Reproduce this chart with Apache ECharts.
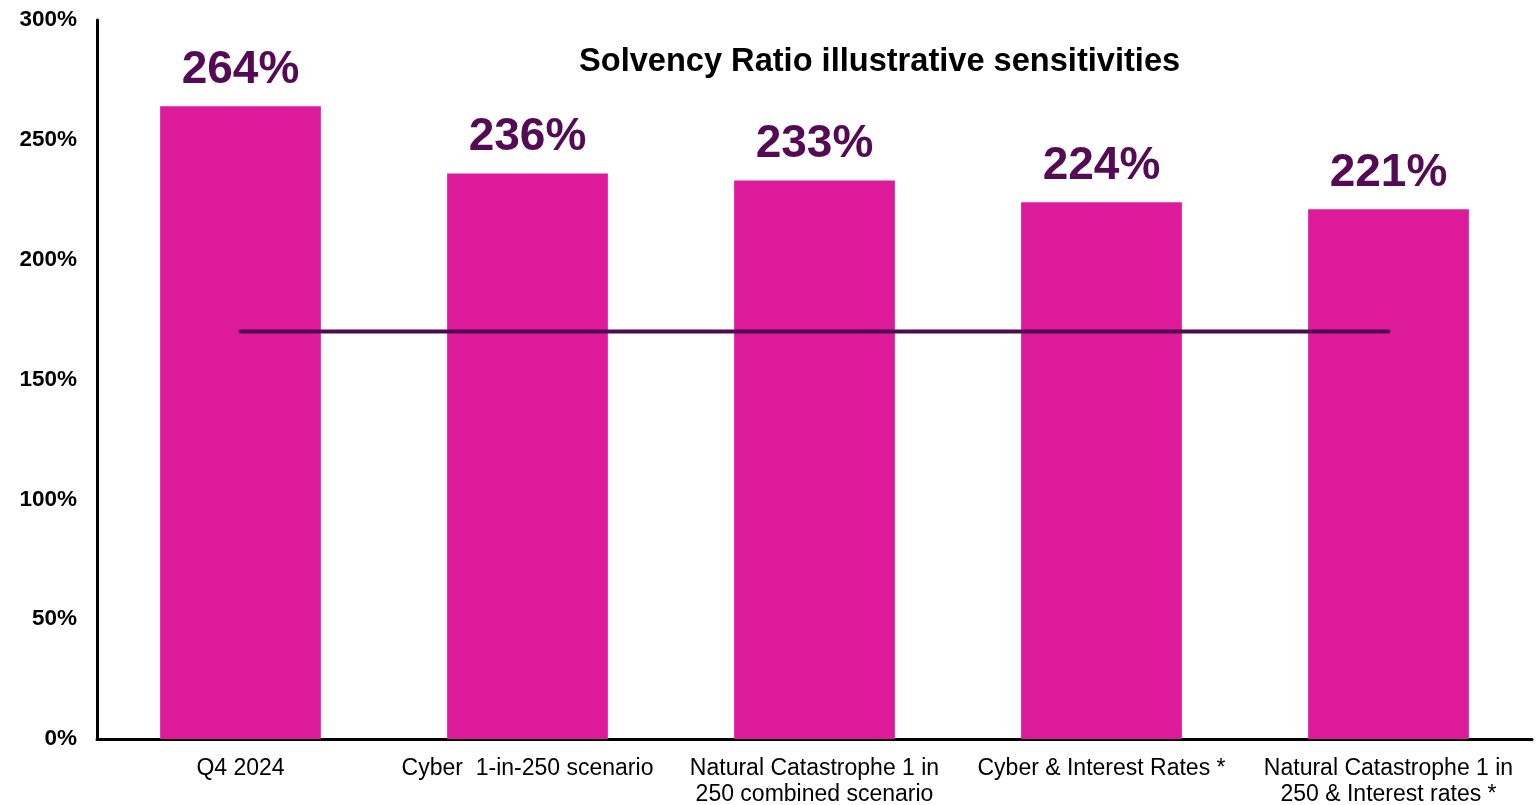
<!DOCTYPE html>
<html>
<head>
<meta charset="utf-8">
<script src="https://cdn.jsdelivr.net/npm/echarts@6/dist/echarts.min.js"></script>
<style>
  html, body { margin: 0; padding: 0; background: #ffffff; }
  #chart { width: 1539px; height: 805px; }
</style>
</head>
<body>
<div id="chart"></div>
<script>
// Scenario names shown under each bar
const categories = [
  'Q4 2024',
  'Cyber  1-in-250 scenario',
  'Natural Catastrophe 1 in\n250 combined scenario',
  'Cyber & Interest Rates *',
  'Natural Catastrophe 1 in\n250 & Interest rates *'
];
// Solvency ratio per scenario, in percent
const solvencyRatios = [264, 236, 233, 224, 221];
// Reference level drawn as a horizontal line across the bars
const thresholdLevel = [170, 170, 170, 170, 170];
// Value-axis ticks
const yTicks = [0, 50, 100, 150, 200, 250, 300];

const FONT = '"Liberation Sans", Arial, sans-serif';
const chart = echarts.init(document.getElementById('chart'), null, { renderer: 'canvas' });

chart.setOption({
  animation: false,
  backgroundColor: '#ffffff',
  title: {
    text: 'Solvency Ratio illustrative sensitivities',
    left: 574,
    top: 41,
    textStyle: { fontFamily: FONT, fontSize: 32.6, fontWeight: 'bold', color: '#000000' }
  },
  grid: {
    left: 97, right: 7, top: 20, bottom: 66,
    containLabel: false,
    outerBoundsMode: 'none'
  },
  xAxis: {
    type: 'category',
    data: categories,
    axisLine: { lineStyle: { color: '#000000', width: 3 } },
    axisTick: { show: false },
    axisLabel: {
      interval: 0,
      margin: 17,
      fontFamily: FONT,
      fontSize: 23,
      lineHeight: 26,
      color: '#000000'
    }
  },
  yAxis: {
    type: 'value',
    min: yTicks[0],
    max: yTicks[yTicks.length - 1],
    interval: yTicks[1] - yTicks[0],
    axisLine: { show: true, lineStyle: { color: '#000000', width: 3 } },
    axisTick: { show: false },
    splitLine: { show: false },
    axisLabel: {
      margin: 20,
      fontFamily: FONT,
      fontSize: 22.5,
      fontWeight: 'bold',
      color: '#000000',
      formatter: '{value}%'
    }
  },
  series: [
    {
      type: 'bar',
      data: solvencyRatios,
      barWidth: '56%',
      itemStyle: { color: '#DD1A9A' },
      label: {
        show: true,
        position: 'top',
        distance: 13,
        formatter: '{c}%',
        fontFamily: FONT,
        fontSize: 46,
        fontWeight: 'bold',
        color: '#540A55'
      },
      z: 2
    },
    {
      type: 'line',
      data: thresholdLevel,
      symbol: 'none',
      lineStyle: { color: '#4F0A50', width: 4, cap: 'round' },
      z: 3
    }
  ]
});
</script>
</body>
</html>
